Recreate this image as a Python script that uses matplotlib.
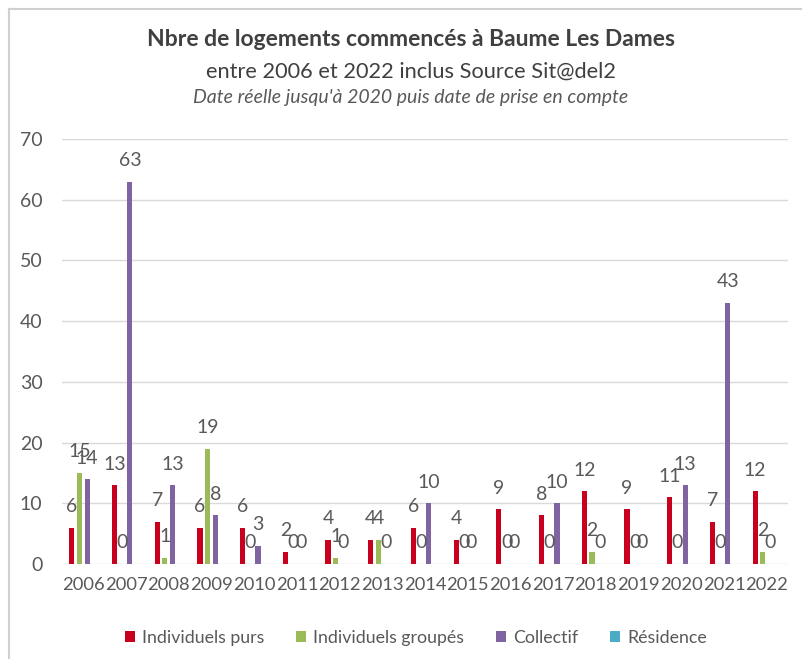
import numpy as np
import matplotlib
matplotlib.use("Agg")
from matplotlib import pyplot as plt
from matplotlib.lines import Line2D

years = [str(y) for y in range(2006, 2023)]
indiv_purs = [6, 13, 7, 6, 6, 2, 4, 4, 6, 4, 9, 8, 12, 9, 11, 7, 12]
indiv_groupes = [15, 0, 1, 19, 0, 0, 1, 4, 0, 0, 0, 0, 2, 0, 0, 0, 2]
collectif = [14, 63, 13, 8, 3, 0, 0, 0, 10, 0, 0, 10, 0, 0, 13, 43, 0]
residence = [None] * len(years)  # no values shown

series = [
    ("Individuels purs", indiv_purs, "#C8001E"),
    ("Individuels groupés", indiv_groupes, "#9BBB59"),
    ("Collectif", collectif, "#8064A2"),
    ("Résidence", residence, "#4BACC6"),
]

plt.rcParams['font.family'] = ['Lato', 'DejaVu Sans']
TXT = "#595959"

fig = plt.figure(figsize=(8.03, 6.59), dpi=100)
ax = fig.add_axes([62 / 803, 1 - 564 / 659, 726 / 803, 425 / 659])

x = np.arange(len(years))
step = 0.18
width = 0.12
for k, (name, vals, color) in enumerate(series):
    pos = x + (k - 1.5) * step
    v = np.array([np.nan if a is None else a for a in vals], dtype=float)
    ax.bar(pos, np.nan_to_num(v), width=width, color=color, label=name, zorder=3)
    for p, a in zip(pos, vals):
        if a is None:
            continue
        ax.annotate(str(a), (p, a), xytext=(0, 21), textcoords="offset pixels",
                    ha="center", va="center", fontsize=14, color=TXT, zorder=4)

ax.set_xlim(-0.5, len(years) - 0.5)
ax.set_ylim(0, 70)
ax.set_yticks(range(0, 71, 10))
ax.set_xticks(x)
ax.set_xticklabels(years)
ax.grid(axis="y", color="#D9D9D9", linewidth=1, zorder=0)
for s in ax.spines.values():
    s.set_visible(False)
ax.tick_params(length=0, colors=TXT, labelsize=14)
ax.tick_params(axis="x", labelsize=13.2, pad=9)
ax.tick_params(axis="y", pad=14)

cx = 411 / 803
fig.text(cx, 1 - 40 / 659, "Nbre de logements commencés à Baume Les Dames",
         ha="center", va="center", fontsize=16.5, fontweight="bold", color="#404040")
fig.text(cx, 1 - 72 / 659, "entre 2006 et 2022 inclus Source Sit@del2",
         ha="center", va="center", fontsize=15.7, color="#404040")
fig.text(cx, 1 - 98 / 659, "Date réelle jusqu'à 2020 puis date de prise en compte",
         ha="center", va="center", fontsize=14, style="italic", color=TXT)

leg = fig.legend(loc="center", bbox_to_anchor=(416 / 803, 1 - 638 / 659), ncol=4,
                 frameon=False, fontsize=12.8, handlelength=0.55, handleheight=0.55,
                 columnspacing=1.8, handletextpad=0.4)
for t in leg.get_texts():
    t.set_color(TXT)

# light frame of the chart area (left and top edges visible)
fig.add_artist(Line2D([9 / 803, 9 / 803], [0, 1 - 9 / 659], transform=fig.transFigure,
                      color="#D0D0D0", linewidth=1.5))
fig.add_artist(Line2D([9 / 803, 1], [1 - 9 / 659, 1 - 9 / 659], transform=fig.transFigure,
                      color="#D0D0D0", linewidth=1.5))

fig.savefig("out.png", dpi=100)
